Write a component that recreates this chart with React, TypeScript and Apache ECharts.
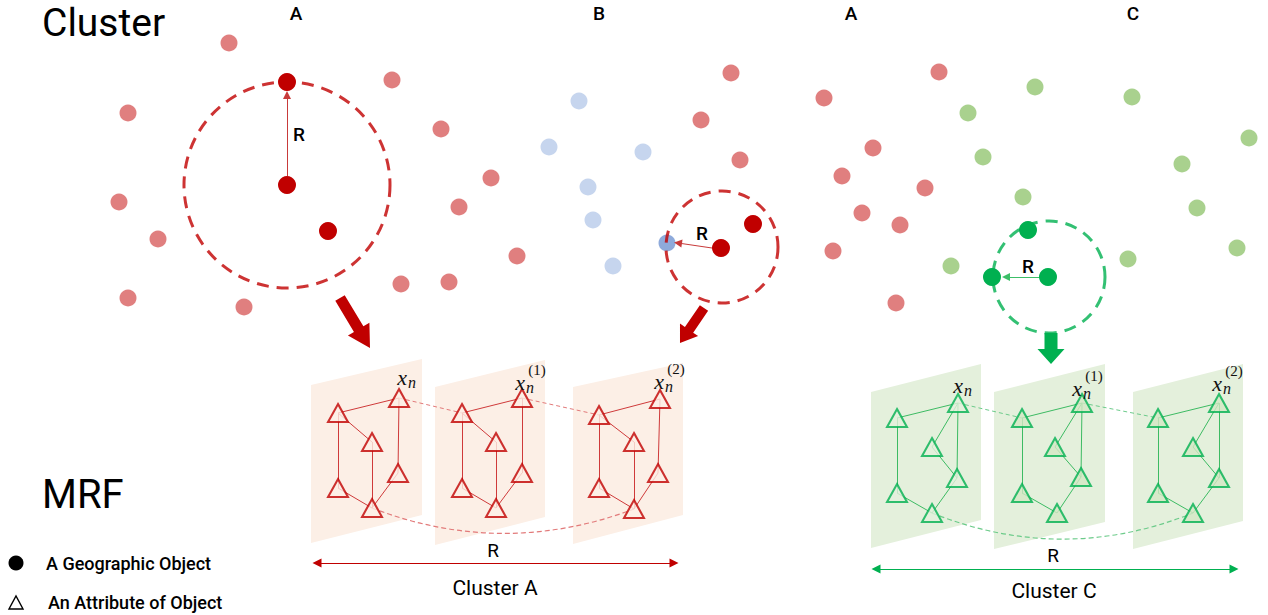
import React, { useEffect, useRef } from "react";
import * as echarts from "echarts";

const W = 1268;
const H = 615;

// ---------- points (pixel-space data) ----------
const pinkPoints = [
  [229, 43], [392, 80], [128, 113], [441, 129], [119, 202], [158, 239], [128, 298],
  [244, 307], [401, 284], [449, 282], [491, 178], [459, 207], [517, 256], [731, 73],
  [701, 120], [740, 160], [824, 98], [939, 72], [873, 148], [842, 176], [925, 188],
  [862, 213], [900, 225], [833, 251], [896, 303],
];
const bluePoints = [[579, 101], [549, 147], [643, 152], [588, 187], [593, 220], [613, 266]];
const blueHighlight = [[667, 243]];
const darkRedPoints = [[287, 82], [287, 185], [328, 231], [753, 224], [721, 248]];
const greenPoints = [
  [1035, 87], [1132, 97], [968, 113], [1249, 138], [983, 157], [1182, 164],
  [1023, 197], [1197, 208], [1237, 248], [951, 266], [1128, 259],
];
const darkGreenPoints = [[1028, 230], [992, 277], [1048, 277]];

// dashed neighbourhood circles: [cx, cy, radius]
const redRings = [[287, 185, 103], [722, 247, 56]];
const greenRings = [[1049, 277, 56]];

// radius arrows [x1,y1,x2,y2]
const redRadiusArrows = [[287, 176, 287, 95], [712, 248, 678, 243]];
const greenRadiusArrows = [[1040, 277, 1006, 277]];

// thick arrows [x1,y1,xTip,yTip]
const thickArrows = [[340, 298, 370, 348], [704, 308, 680, 343], [1051, 333, 1051, 364]];

// MRF panels: [xLeft, yTopLeft, xRight, yTopRight, yBottomRight, yBottomLeft]
const redPanels = [
  [311, 385, 422, 359, 515, 543],
  [435, 387, 545, 360, 517, 545],
  [573, 387, 683, 363, 515, 544],
];
const greenPanels = [
  [871, 392, 981, 364, 520, 548],
  [994, 392, 1105, 364, 522, 549],
  [1133, 392, 1243, 364, 521, 549],
];

// triangle nodes per panel
const redTriangles = [
  [[338, 413], [399, 398], [372, 442], [338, 488], [398, 473], [372, 508]],
  [[462, 413], [522, 398], [496, 442], [462, 488], [522, 473], [496, 508]],
  [[599, 415], [660, 399], [634, 442], [599, 488], [658, 473], [634, 509]],
];
const greenTriangles = [
  [[897, 418], [958, 403], [932, 447], [897, 493], [957, 478], [932, 513]],
  [[1022, 418], [1082, 403], [1055, 447], [1022, 493], [1081, 477], [1057, 513]],
  [[1158, 418], [1219, 403], [1193, 447], [1158, 493], [1219, 478], [1193, 513]],
];
const redEdgePairs = [[0, 1], [0, 2], [0, 3], [1, 4], [2, 5], [3, 5], [4, 5]];
const greenEdgePairs = [[0, 1], [0, 3], [1, 2], [1, 4], [2, 4], [3, 5], [4, 5]];

// range bars under each MRF
const redRange = [[317, 563], [674, 563]];
const greenRange = [[876, 569], [1234, 569]];

// x_n labels: [xGlyph, yGlyph, sup]
const redXLabels: [number, number, string][] = [[402, 377, ""], [520, 382, "(1)"], [659, 381, "(2)"]];
const greenXLabels: [number, number, string][] = [[958, 385, ""], [1077, 388, "(1)"], [1217, 383, "(2)"]];

const topLetters: [string, number][] = [["A", 296], ["B", 599], ["A", 851], ["C", 1133]];

const RED = "#c00000";
const GREEN = "#00b050";
const RED_PANEL = "#fcefe6";
const GREEN_PANEL = "#e4f0dc";

function panelSeries(panels: number[][], fill: string) {
  return {
    type: "custom",
    coordinateSystem: "cartesian2d",
    silent: true,
    z: 1,
    data: panels,
    encode: { x: [0, 2], y: [1, 3, 4, 5] },
    renderItem: (_p: any, api: any) => {
      const x0 = api.value(0), yt0 = api.value(1), x1 = api.value(2), yt1 = api.value(3), yb1 = api.value(4), yb0 = api.value(5);
      return {
        type: "polygon",
        shape: { points: [api.coord([x0, yt0]), api.coord([x1, yt1]), api.coord([x1, yb1]), api.coord([x0, yb0])] },
        style: { fill },
      };
    },
  };
}

function edgeData(tris: number[][][], pairs: number[][]) {
  const out: any[] = [];
  tris.forEach((t) => pairs.forEach(([a, b]) => out.push({ coords: [t[a], t[b]] })));
  return out;
}
function crossData(tris: number[][][]) {
  return [
    { coords: [tris[0][1], tris[1][0]] },
    { coords: [tris[1][1], tris[2][0]] },
  ];
}

const arrowStyles = [
  { shaft: 11, head: 25, len: 22, color: RED },
  { shaft: 10, head: 22, len: 16, color: RED },
  { shaft: 13, head: 27, len: 15, color: GREEN },
];

function xLabelGraphics(list: [number, number, string][]) {
  const g: any[] = [];
  list.forEach(([x, y, sup]) => {
    g.push({ type: "text", x, y, z: 10, style: { text: "x", fill: "#111", fontSize: 22, fontStyle: "italic", fontFamily: "Liberation Serif", align: "center", verticalAlign: "middle" } });
    g.push({ type: "text", x: x + 10, y: y + 5, z: 10, style: { text: "n", fill: "#111", fontSize: 16, fontStyle: "italic", fontFamily: "Liberation Serif", align: "center", verticalAlign: "middle" } });
    if (sup) {
      g.push({ type: "text", x: x + 17, y: y - 12, z: 10, style: { text: sup, fill: "#111", fontSize: 15, fontFamily: "Liberation Serif", align: "center", verticalAlign: "middle" } });
    }
  });
  return g;
}

function txt(text: string, x: number, y: number, size: number, align = "center", weight: any = 500) {
  return { type: "text", x, y, z: 10, style: { text, fill: "#000", fontSize: size, fontFamily: "Roboto", fontWeight: weight, align, verticalAlign: "middle" } };
}

export default function App() {
  const ref = useRef<HTMLDivElement>(null);
  useEffect(() => {
    document.body.style.margin = "0";
    const chart = echarts.init(ref.current!, null, { renderer: "svg" });
    const scatter = (data: number[][], color: string, size: number, z = 4) => ({
      type: "scatter",
      data,
      symbol: "circle",
      symbolSize: size,
      silent: true,
      z,
      itemStyle: { color, opacity: 1 },
    });
    const rings = (data: number[][], color: string) => ({
      type: "scatter",
      data,
      symbol: "circle",
      symbolSize: (v: number[]) => v[2] * 2,
      silent: true,
      z: 5,
      itemStyle: { color: "rgba(0,0,0,0)", borderColor: color, borderWidth: 3, borderType: [12, 8] },
    });
    const triangles = (tris: number[][][], stroke: string, fills: string[]) =>
      tris.map((t, i) => ({
        type: "scatter",
        data: t,
        symbol: "triangle",
        symbolSize: [20, 18],
        silent: true,
        z: 4,
        itemStyle: { color: fills[i], borderColor: stroke, borderWidth: 2 },
      }));
    const option: any = {
      animation: false,
      backgroundColor: "#fff",
      grid: { left: 0, right: 0, top: 0, bottom: 0, containLabel: false },
      xAxis: { type: "value", min: 0, max: W, show: false },
      yAxis: { type: "value", min: 0, max: H, inverse: true, show: false },
      series: [
        panelSeries(redPanels, RED_PANEL),
        panelSeries(greenPanels, GREEN_PANEL),
        { type: "lines", coordinateSystem: "cartesian2d", silent: true, z: 2, data: edgeData(redTriangles, redEdgePairs), lineStyle: { color: "#cf3a3a", width: 1, opacity: 1 } },
        { type: "lines", coordinateSystem: "cartesian2d", silent: true, z: 2, data: edgeData(greenTriangles, greenEdgePairs), lineStyle: { color: "#3dbb63", width: 1, opacity: 1 } },
        { type: "lines", coordinateSystem: "cartesian2d", silent: true, z: 2, data: crossData(redTriangles), lineStyle: { color: "#e27a7a", width: 1, type: [4, 3], opacity: 1 } },
        { type: "lines", coordinateSystem: "cartesian2d", silent: true, z: 2, data: crossData(greenTriangles), lineStyle: { color: "#6ccb8a", width: 1, type: [4, 3], opacity: 1 } },
        { type: "lines", coordinateSystem: "cartesian2d", silent: true, z: 2, data: [{ coords: [redTriangles[0][5], redTriangles[2][5]] }], lineStyle: { color: "#e27a7a", width: 1.2, type: [5, 3], curveness: -0.19, opacity: 1 } },
        { type: "lines", coordinateSystem: "cartesian2d", silent: true, z: 2, data: [{ coords: [greenTriangles[0][5], greenTriangles[2][5]] }], lineStyle: { color: "#6ccb8a", width: 1.2, type: [5, 3], curveness: -0.2, opacity: 1 } },
        ...triangles(redTriangles, RED, [RED_PANEL, RED_PANEL, RED_PANEL]),
        ...triangles(greenTriangles, GREEN, [GREEN_PANEL, "#d3e7c4", "#d3e7c4"]),
        scatter(pinkPoints, "#e07f7f", 17),
        scatter(bluePoints, "#c6d5ee", 17),
        scatter(blueHighlight, "#8eaadb", 17),
        scatter(darkRedPoints, RED, 18, 6),
        scatter(greenPoints, "#a9d18e", 17),
        scatter(darkGreenPoints, GREEN, 18, 6),
        rings(redRings, RED),
        rings(greenRings, GREEN),
        { type: "lines", coordinateSystem: "cartesian2d", silent: true, z: 5, symbol: ["none", "triangle"], symbolSize: 8, data: redRadiusArrows.map((a) => ({ coords: [[a[0], a[1]], [a[2], a[3]]] })), lineStyle: { color: "#c83a3a", width: 1, opacity: 1 } },
        { type: "lines", coordinateSystem: "cartesian2d", silent: true, z: 5, symbol: ["none", "triangle"], symbolSize: 8, data: greenRadiusArrows.map((a) => ({ coords: [[a[0], a[1]], [a[2], a[3]]] })), lineStyle: { color: "#3cbf68", width: 1, opacity: 1 } },
        { type: "lines", coordinateSystem: "cartesian2d", silent: true, z: 5, symbol: ["triangle", "triangle"], symbolSize: 9, data: [{ coords: redRange }], lineStyle: { color: RED, width: 1.2, opacity: 1 } },
        { type: "lines", coordinateSystem: "cartesian2d", silent: true, z: 5, symbol: ["triangle", "triangle"], symbolSize: 9, data: [{ coords: greenRange }], lineStyle: { color: GREEN, width: 1.2, opacity: 1 } },
        {
          type: "custom",
          coordinateSystem: "cartesian2d",
          silent: true,
          z: 6,
          data: thickArrows,
          encode: { x: [0, 2], y: [1, 3] },
          renderItem: (p: any, api: any) => {
            const s = arrowStyles[p.dataIndex];
            const a = api.coord([api.value(0), api.value(1)]);
            const b = api.coord([api.value(2), api.value(3)]);
            const dx = b[0] - a[0], dy = b[1] - a[1];
            const L = Math.hypot(dx, dy);
            const ux = dx / L, uy = dy / L;
            const nx = -uy, ny = ux;
            const bx = b[0] - ux * s.len, by = b[1] - uy * s.len;
            const pts = [
              [a[0] + nx * s.shaft / 2, a[1] + ny * s.shaft / 2],
              [bx + nx * s.shaft / 2, by + ny * s.shaft / 2],
              [bx + nx * s.head / 2, by + ny * s.head / 2],
              [b[0], b[1]],
              [bx - nx * s.head / 2, by - ny * s.head / 2],
              [bx - nx * s.shaft / 2, by - ny * s.shaft / 2],
              [a[0] - nx * s.shaft / 2, a[1] - ny * s.shaft / 2],
            ];
            return { type: "polygon", shape: { points: pts }, style: { fill: s.color } };
          },
        },
      ],
      graphic: [
        txt("Cluster", 42, 23, 39, "left", "normal"),
        txt("MRF", 42, 494, 40, "left", "normal"),
        ...topLetters.map(([t, x]) => txt(t, x, 13, 19)),
        txt("R", 299, 134, 19),
        txt("R", 702, 233, 19),
        txt("R", 1028, 266, 19),
        txt("R", 493, 550, 19, "center", "normal"),
        txt("R", 1053, 555, 19, "center", "normal"),
        txt("Cluster A", 495, 588, 21, "center", "normal"),
        txt("Cluster C", 1054, 591, 21, "center", "normal"),
        { type: "circle", shape: { cx: 16, cy: 563, r: 7.5 }, style: { fill: "#000" } },
        { type: "polygon", shape: { points: [[9, 609], [23, 609], [16, 596]] }, style: { fill: "none", stroke: "#000", lineWidth: 1.4 } },
        txt("A Geographic Object", 46, 563, 18, "left"),
        txt("An Attribute of Object", 48, 602, 18, "left"),
        ...xLabelGraphics(redXLabels),
        ...xLabelGraphics(greenXLabels),
      ],
    };
    chart.setOption(option);
    return () => chart.dispose();
  }, []);
  return <div ref={ref} style={{ width: W, height: H }} />;
}
